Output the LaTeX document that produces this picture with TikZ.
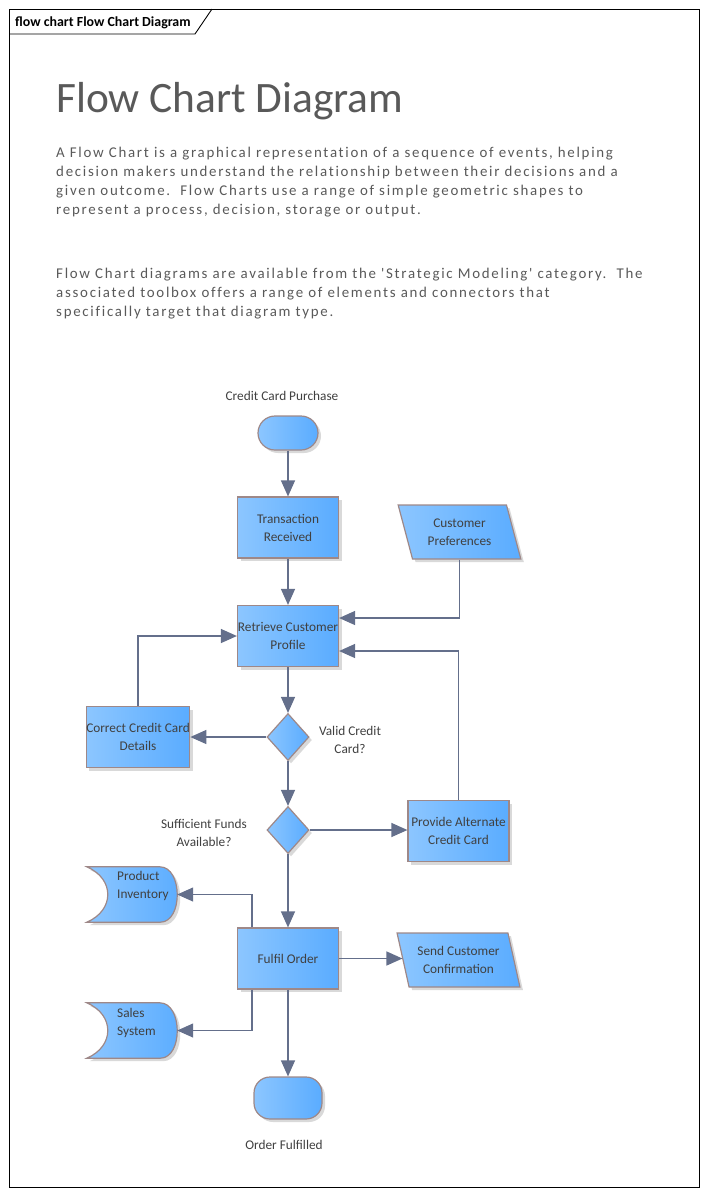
\documentclass[tikz,border=0pt]{standalone}
\usepackage{fontspec}
\setmainfont{Carlito}
\newfontfamily\bodyfont{Carlito}[LetterSpace=11.6,Ligatures=NoCommon]
\usetikzlibrary{shapes.geometric,arrows.meta,shadows}
\definecolor{blueL}{HTML}{8CC6FF}
\definecolor{blueR}{HTML}{5AACFF}
\definecolor{bord}{HTML}{9E8888}
\definecolor{connc}{HTML}{646F8B}
\definecolor{txt}{HTML}{404040}
\definecolor{gtxt}{HTML}{595959}
\begin{document}
\begin{tikzpicture}[x=1pt,y=-1pt,
  shp/.style={draw=bord, line width=1.2pt, left color=blueL, right color=blueR,
    drop shadow={shadow xshift=3pt,shadow yshift=-3pt,fill=black!15,opacity=1},
    text=txt, font=\fontsize{13.3}{18}\selectfont, align=center, inner sep=0pt},
  proc/.style={shp, rectangle, minimum width=101pt, minimum height=61pt},
  term/.style={shp, rectangle},
  dec/.style={shp, diamond, minimum width=42pt, minimum height=47pt},
  para/.style={shp, trapezium, trapezium left angle=110, trapezium right angle=70,
    trapezium stretches=true, minimum width=123pt, minimum height=54pt},
  box/.style={rectangle, minimum width=90pt, minimum height=55pt, inner sep=0pt},
  stor/.style={draw=bord, line width=1.2pt, left color=blueL, right color=blueR,
    drop shadow={shadow xshift=3pt,shadow yshift=-3pt,fill=black!15,opacity=1}},
  lbl/.style={text=txt, font=\fontsize{13.3}{18}\selectfont, align=center, inner sep=0pt},
  body/.style={text=gtxt, anchor=base west, inner sep=0pt,
    font=\bodyfont\fontsize{14.9}{19}\selectfont},
  conn/.style={draw=connc, line width=1.3pt, -{Triangle[width=14pt,length=16pt]}},
]
\useasboundingbox (0,0) rectangle (707,1195);
% frame
\draw[line width=0.9pt] (9,9) rectangle (699,1187);
\draw[line width=0.9pt] (9,34) -- (195,34) -- (212,9);
\node[anchor=base west, inner sep=0pt, font=\fontsize{13.9}{16}\selectfont\bfseries] (tab) at (15,26) {flow chart Flow Chart Diagram};
% title and text
\node[anchor=base west, inner sep=0pt, text=gtxt, font=\fontsize{43.4}{50}\selectfont] (title) at (56,112) {Flow Chart Diagram};
\node[body] (p1) at (56,157) {A Flow Chart is a graphical representation of a sequence of events, helping};
\node[body] (p2) at (56,176) {decision makers understand the relationship between their decisions and a};
\node[body] (p3) at (56,195) {given outcome.\ \ Flow Charts use a range of simple geometric shapes to};
\node[body] (p4) at (56,214) {represent a process, decision, storage or output.};
\node[body] (q1) at (56,278) {Flow Chart diagrams are available from the 'Strategic Modeling' category.\ \ The};
\node[body] (q2) at (56,297) {associated toolbox offers a range of elements and connectors that};
\node[body] (q3) at (56,316) {specifically target that diagram type.};
% nodes
\node[lbl] (startl) at (282,396) {Credit Card Purchase};
\node[term, minimum width=60pt, minimum height=34pt, rounded corners=17pt] (start) at (288,433) {};
\node[proc] (tr) at (288,527.5) {Transaction\\Received};
\node[para] (cp) at (459.5,532) {Customer\\Preferences};
\node[proc] (rcp) at (288,636) {Retrieve Customer\\Profile};
\node[proc] (ccd) at (138,737) {Correct Credit Card\\Details};
\node[dec] (d1) at (288,737) {};
\node[lbl] (d1l) at (350,740) {Valid Credit\\Card?};
\node[dec] (d2) at (288,830) {};
\node[lbl] (d2l) at (204,833) {Sufficient Funds\\Available?};
\node[proc] (pac) at (458.5,831) {Provide Alternate\\Credit Card};
\node[proc] (fo) at (288,958.5) {Fulfil Order};
\node[para] (scc) at (458.5,960) {Send Customer\\Confirmation};
\node[term, minimum width=68pt, minimum height=42pt, rounded corners=16pt] (end) at (288,1098) {};
\node[lbl] (endl) at (284,1145) {Order Fulfilled};
% stored data shapes
\node[box] (pi) at (132,894.5) {};
\path[stor] (pi.north west) -- ++(73,0) .. controls ++(23,0) and ++(23,0) .. ([xshift=-17pt]pi.south east)
  -- (pi.south west) .. controls ++(28,-12) and ++(28,12) .. (pi.north west) -- cycle;
\node[lbl, align=left, anchor=west] (pil) at (117,886) {Product\\Inventory};
\node[box] (ss) at (132,1030.5) {};
\path[stor] (ss.north west) -- ++(73,0) .. controls ++(23,0) and ++(23,0) .. ([xshift=-17pt]ss.south east)
  -- (ss.south west) .. controls ++(28,-12) and ++(28,12) .. (ss.north west) -- cycle;
\node[lbl, align=left, anchor=west] (ssl) at (117,1023) {Sales\\System};
% connectors
\draw[conn] (start) -- (tr);
\draw[conn] (tr) -- (rcp);
\draw[conn] (cp) |- ([yshift=18pt]rcp.east);
\draw[conn] (ccd) |- (rcp);
\draw[conn] (rcp) -- (d1);
\draw[conn] (d1) -- (ccd);
\draw[conn] (d1) -- (d2);
\draw[conn] (d2.east) -- (d2.east -| pac.west);
\draw[conn] (pac) |- ([yshift=-15pt]rcp.east);
\draw[conn] (d2) -- (fo);
\draw[conn] ([xshift=-36pt]fo.north) |- (pi.east);
\draw[conn] ([xshift=-36pt]fo.south) |- (ss.east);
\draw[conn] (fo.east) -- (fo.east -| scc.west);
\draw[conn] (fo) -- (end);
\end{tikzpicture}
\end{document}
